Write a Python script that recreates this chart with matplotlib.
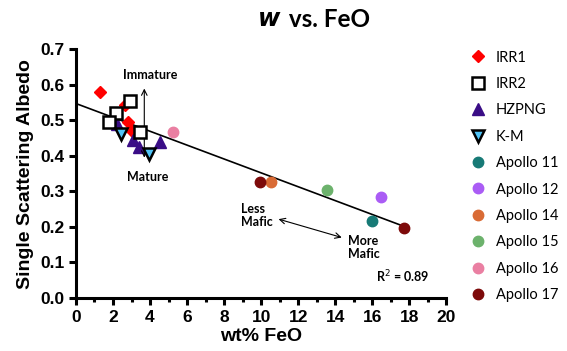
import matplotlib
matplotlib.use("Agg")
import matplotlib.pyplot as plt
import numpy as np

# data
irr1_x = [1.32, 2.66, 2.83, 3.01]
irr1_y = [0.579, 0.543, 0.494, 0.470]
irr2_x = [2.94, 2.16, 1.80, 3.44]
irr2_y = [0.555, 0.521, 0.496, 0.468]
hzpng_x = [2.20, 3.10, 3.42, 4.56]
hzpng_y = [0.490, 0.445, 0.425, 0.438]
km_x = [2.43, 3.97]
km_y = [0.461, 0.406]
a11_x, a11_y = [15.98], [0.217]
a12_x, a12_y = [16.5], [0.285]
a14_x, a14_y = [10.54], [0.325]
a15_x, a15_y = [13.55], [0.304]
a16_x, a16_y = [5.22], [0.466]
a17_x, a17_y = [9.95, 17.7], [0.325, 0.196]

fit_intercept = 0.547
fit_slope = -0.0195
fit_xrange = [0, 17.7]

CAL = "Lato"
ARIAL = "Liberation Sans"

fig = plt.figure(figsize=(5.67, 3.51), dpi=100)
ax = fig.add_axes([0.134, 0.151, 0.653, 0.709])

fx = np.array(fit_xrange)
ax.plot(fx, fit_intercept + fit_slope * fx, color="black", lw=1.2, zorder=1)

ax.plot(irr1_x, irr1_y, "D", color="#ff0000", ms=6, mec="#ff0000", ls="none", label="IRR1", zorder=3)
ax.plot(irr2_x, irr2_y, "s", mfc="white", mec="black", mew=1.8, ms=9, ls="none", label="IRR2", zorder=4)
ax.plot(hzpng_x, hzpng_y, "^", color="#3a0d86", ms=8, ls="none", label="HZPNG", zorder=3)
ax.plot(km_x, km_y, "v", mfc="#4fc3f7", mec="black", mew=1.8, ms=8.5, ls="none", label="K-M", zorder=5)
ax.plot(a11_x, a11_y, "o", color="#177a76", ms=7.5, ls="none", label="Apollo 11", zorder=3)
ax.plot(a12_x, a12_y, "o", color="#aa5cf5", ms=7.5, ls="none", label="Apollo 12", zorder=3)
ax.plot(a14_x, a14_y, "o", color="#d96b35", ms=7.5, ls="none", label="Apollo 14", zorder=3)
ax.plot(a15_x, a15_y, "o", color="#6cb26c", ms=7.5, ls="none", label="Apollo 15", zorder=3)
ax.plot(a16_x, a16_y, "o", color="#ea7fa2", ms=7.5, ls="none", label="Apollo 16", zorder=3)
ax.plot(a17_x, a17_y, "o", color="#7d0a0a", ms=7.5, ls="none", label="Apollo 17", zorder=3)

ax.set_xlim(0, 20)
ax.set_ylim(0, 0.7)
ax.set_xticks(np.arange(0, 21, 2))
ax.set_xticks(np.arange(0, 21, 1), minor=True)
ax.set_yticks(np.arange(0, 0.71, 0.1))
ax.set_yticklabels(["0.0", "0.1", "0.2", "0.3", "0.4", "0.5", "0.6", "0.7"])
for s in ["top", "right"]:
    ax.spines[s].set_visible(False)
for s in ["left", "bottom"]:
    ax.spines[s].set_linewidth(2.2)
ax.tick_params(axis="both", which="major", length=5, width=2.2, direction="out")
ax.tick_params(axis="x", which="minor", length=3, width=2.2, direction="out")
for lab in ax.get_xticklabels() + ax.get_yticklabels():
    lab.set_fontfamily(ARIAL)
    lab.set_fontweight("bold")
    lab.set_fontsize(12.5)

ax.set_xlabel("wt% FeO", fontfamily=ARIAL, fontweight="bold", fontsize=14, labelpad=2)
ax.set_ylabel("Single Scattering Albedo", fontfamily=ARIAL, fontweight="bold", fontsize=14, labelpad=4)

fig.text(0.497, 0.945, r"$\boldsymbol{w}$", fontsize=17.5, ha="right", va="center")
fig.text(0.499, 0.945, " vs. FeO", fontfamily=CAL, fontweight="bold", fontsize=17.5, ha="left", va="center")

# annotations
ax.text(4.0, 0.627, "Immature", fontfamily=CAL, fontweight="bold", fontsize=9, ha="center", va="center")
ax.text(3.9, 0.339, "Mature", fontfamily=CAL, fontweight="bold", fontsize=9, ha="center", va="center")
ax.annotate("", xy=(3.69, 0.597), xytext=(3.69, 0.387),
            arrowprops=dict(arrowstyle="<->", color="black", lw=0.8))
ax.text(8.9, 0.233, "Less\nMafic", fontfamily=CAL, fontweight="bold", fontsize=9, ha="left", va="center", linespacing=1.1)
ax.annotate("", xy=(10.8, 0.224), xytext=(14.5, 0.168),
            arrowprops=dict(arrowstyle="<->", color="black", lw=0.8))
ax.text(14.7, 0.142, "More\nMafic", fontfamily=CAL, fontweight="bold", fontsize=9, ha="left", va="center", linespacing=1.1)
ax.text(16.2, 0.059, r"R$^2$ = 0.89", fontfamily=CAL, fontweight="bold", fontsize=9, ha="left", va="center")

leg = ax.legend(loc="upper left", bbox_to_anchor=(0.828, 0.856), bbox_transform=fig.transFigure,
                frameon=False, prop={"family": CAL, "size": 10.5}, labelspacing=0.85,
                handletextpad=0.6, handlelength=1.2, borderaxespad=0, borderpad=0)

fig.savefig("out.png", dpi=100)
